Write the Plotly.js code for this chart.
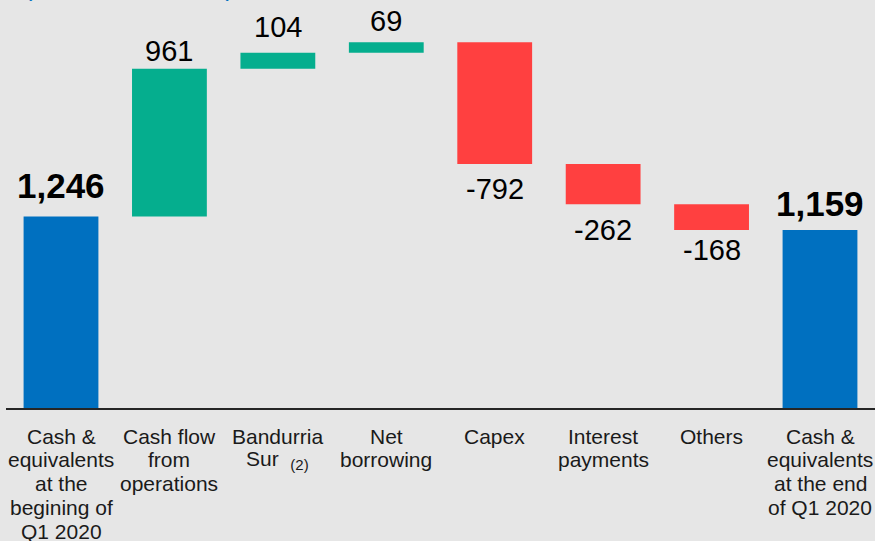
<!DOCTYPE html>
<html>
<head>
<meta charset="utf-8">
<script src="https://cdn.plot.ly/plotly-3.0.1.min.js"></script>
<style>html,body{margin:0;padding:0;background:#e6e6e6;}#chart{width:875px;height:541px;}</style>
</head>
<body>
<div id="chart"></div>
<script>
// ---- data ----
var categories = [
  'Cash &<br>equivalents<br>at the<br>begining of<br>Q1 2020',
  'Cash flow<br>from<br>operations',
  'Bandurria<br>Sur  <sub><span style="font-size:15px">(2)</span></sub>',
  'Net<br>borrowing',
  'Capex',
  'Interest<br>payments',
  'Others',
  'Cash &<br>equivalents<br>at the end<br>of Q1 2020'
];
var values = [1246, 961, 104, 69, -792, -262, -168, 1159];
var measures = ['absolute', 'relative', 'relative', 'relative', 'relative', 'relative', 'relative', 'absolute'];
var labels = ['1,246', '961', '104', '69', '-792', '-262', '-168', '1,159'];
var unitNote = '(in millions of US$)';

// ---- styling (not data) ----
var labelShift = [31, 18, 26, 21, 25, 26, 20, 26];
var FONT = 'Liberation Sans, Arial, sans-serif';

var trace = {
  type: 'waterfall',
  x: categories,
  y: values,
  measure: measures,
  connector: {visible: false},
  increasing: {marker: {color: '#05AE8E'}},
  decreasing: {marker: {color: '#FF4040'}},
  totals: {marker: {color: '#0070C0'}},
  hoverinfo: 'skip'
};

var annotations = [];
var running = 0;
for (var i = 0; i < values.length; i++) {
  var start, end;
  if (measures[i] === 'absolute') { start = 0; end = values[i]; running = values[i]; }
  else { start = running; end = running + values[i]; running = end; }
  var isTotal = measures[i] === 'absolute';
  var up = end >= start;
  annotations.push({
    x: categories[i], y: end, xref: 'x', yref: 'y',
    text: isTotal ? '<b>' + labels[i] + '</b>' : labels[i],
    showarrow: false, xanchor: 'center', yanchor: 'middle',
    yshift: up ? labelShift[i] : -labelShift[i],
    font: {family: FONT, size: isTotal ? 35 : 29, color: '#000000'}
  });
  // category label, one annotation per line for tight line spacing
  var lines = categories[i].split('<br>');
  for (var k = 0; k < lines.length; k++) {
    annotations.push({
      x: categories[i], y: 0, xref: 'x', yref: 'paper',
      text: lines[k], showarrow: false, xanchor: 'center', yanchor: 'middle',
      yshift: -28 - k * 23.8,
      font: {family: FONT, size: 21, color: '#1a1a1a'}
    });
  }
}
annotations.push({
  x: 0.141, y: 0.993, xref: 'paper', yref: 'paper',
  xanchor: 'center', yanchor: 'bottom', showarrow: false,
  text: unitNote,
  font: {family: FONT, size: 25, color: '#0070C0'}
});

var layout = {
  width: 875, height: 541,
  paper_bgcolor: '#e6e6e6', plot_bgcolor: '#e6e6e6',
  margin: {l: 6, r: 0, t: 0, b: 133, pad: 0},
  showlegend: false,
  waterfallgap: 0.31,
  font: {family: FONT, color: '#1a1a1a'},
  xaxis: {
    type: 'category',
    showline: true, linecolor: '#262626', linewidth: 2,
    showgrid: false, zeroline: false,
    ticks: '', showticklabels: false,
    fixedrange: true
  },
  yaxis: {
    range: [0, 2655], visible: false, showgrid: false, zeroline: false, fixedrange: true
  },
  annotations: annotations,
  hovermode: false
};

Plotly.newPlot('chart', [trace], layout, {staticPlot: true, displayModeBar: false});
</script>
</body>
</html>
